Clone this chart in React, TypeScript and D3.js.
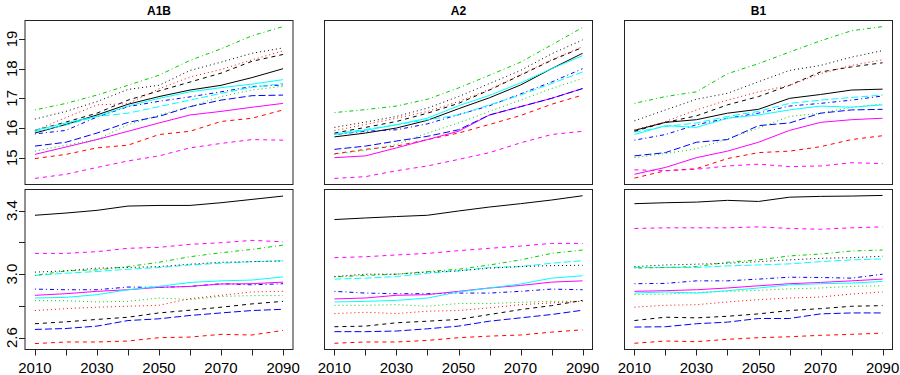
import React from 'react'
import * as d3 from 'd3'

// years on the x axis
const years = [2010, 2020, 2030, 2040, 2050, 2060, 2070, 2080, 2090]
const scenarios = ['A1B', 'A2', 'B1']

// matplot style: colours cycle 1:6, line types cycle 1:5
const lineColors = ['#000000', '#FF0000', '#00CD00', '#0000FF', '#00FFFF', '#FF00FF']
const lineDashes = ['', '4,4', '1,3', '1,3,4,3', '7,3']

const xTicks = [2010, 2020, 2030, 2040, 2050, 2060, 2070, 2080, 2090]
const xTickLabels = [2010, 2030, 2050, 2070, 2090]
const yTicksTop = [15, 16, 17, 18, 19]
const yLabelsTop = [15, 16, 17, 18, 19]
const yTicksBottom = [2.6, 2.8, 3.0, 3.2, 3.4]
const yLabelsBottom = [2.6, 3.0, 3.4]

// top row, one array per model run
const a1bTop = [
  [15.83, 16.12, 16.44, 16.8, 17.06, 17.28, 17.44, 17.7, 18.0],
  [14.97, 15.11, 15.33, 15.42, 15.78, 15.89, 16.22, 16.33, 16.61],
  [15.22, 15.42, 15.61, 16.11, 16.44, 16.72, 17.06, 17.28, 17.41],
  [15.8, 15.92, 16.37, 16.72, 16.9, 17.05, 17.22, 17.4, 17.45],
  [15.88, 16.1, 16.39, 16.5, 16.72, 16.94, 17.17, 17.37, 17.5],
  [15.11, 15.36, 15.61, 15.89, 16.17, 16.44, 16.56, 16.7, 16.83],
  [15.92, 16.2, 16.5, 16.94, 17.25, 17.55, 17.85, 18.25, 18.48],
  [15.92, 16.35, 16.78, 16.82, 17.32, 17.72, 17.97, 18.3, 18.6],
  [16.61, 16.83, 17.11, 17.44, 17.78, 18.28, 18.67, 19.11, 19.42],
  [15.39, 15.52, 15.83, 16.19, 16.39, 16.72, 16.94, 17.09, 17.11],
  [15.92, 16.17, 16.39, 16.74, 17.0, 17.22, 17.36, 17.48, 17.63],
  [14.3, 14.44, 14.67, 14.89, 15.06, 15.33, 15.48, 15.61, 15.59],
  [16.3, 16.56, 16.89, 17.3, 17.44, 17.94, 18.22, 18.52, 18.7],
]

const a2Top = [
  [15.7, 15.83, 16.0, 16.26, 16.65, 17.02, 17.45, 18.0, 18.52],
  [15.13, 15.28, 15.39, 15.61, 15.83, 16.12, 16.42, 16.8, 17.11],
  [15.11, 15.25, 15.44, 15.83, 16.17, 16.56, 16.94, 17.33, 17.67],
  [15.78, 15.89, 15.94, 16.14, 16.45, 16.75, 17.15, 17.55, 18.0],
  [15.8, 15.95, 16.11, 16.28, 16.44, 16.78, 17.11, 17.5, 17.89],
  [15.0, 15.06, 15.33, 15.61, 15.89, 16.44, 16.72, 17.0, 17.33],
  [15.83, 16.02, 16.22, 16.5, 16.83, 17.28, 17.78, 18.28, 18.72],
  [15.91, 16.12, 16.33, 16.56, 16.89, 17.3, 17.8, 18.3, 18.74],
  [16.52, 16.62, 16.74, 16.97, 17.35, 17.78, 18.22, 18.8, 19.39],
  [15.28, 15.39, 15.56, 15.72, 15.94, 16.44, 16.72, 17.0, 17.33],
  [15.78, 15.92, 16.11, 16.33, 16.75, 17.1, 17.52, 18.0, 18.44],
  [14.3, 14.36, 14.56, 14.72, 14.94, 15.17, 15.5, 15.78, 15.89],
  [16.02, 16.2, 16.39, 16.67, 17.06, 17.5, 17.94, 18.5, 18.97],
]

const b1Top = [
  [15.92, 16.19, 16.28, 16.5, 16.63, 17.0, 17.13, 17.28, 17.31],
  [14.31, 14.56, 14.63, 14.97, 15.17, 15.22, 15.37, 15.61, 15.74],
  [15.0, 15.14, 15.3, 15.63, 16.0, 16.39, 16.5, 16.7, 16.81],
  [15.59, 15.78, 16.11, 16.33, 16.5, 16.74, 16.83, 16.94, 17.08],
  [15.86, 16.05, 16.17, 16.39, 16.56, 16.83, 16.94, 17.03, 17.11],
  [14.44, 14.67, 15.0, 15.22, 15.52, 15.92, 16.19, 16.28, 16.33],
  [15.89, 16.19, 16.41, 16.78, 17.06, 17.44, 17.89, 18.06, 18.2],
  [15.94, 16.22, 16.61, 16.94, 17.22, 17.44, 17.83, 18.11, 18.3],
  [16.83, 17.06, 17.22, 17.83, 18.17, 18.56, 18.94, 19.28, 19.42],
  [15.06, 15.17, 15.52, 15.61, 16.08, 16.17, 16.5, 16.61, 16.63],
  [15.78, 16.08, 16.02, 16.33, 16.44, 16.61, 16.74, 16.7, 16.78],
  [14.59, 14.56, 14.61, 14.72, 14.78, 14.7, 14.72, 14.83, 14.8],
  [16.24, 16.61, 16.97, 17.17, 17.56, 17.94, 18.11, 18.39, 18.61],
]

// bottom row
const a1bBottom = [
  [3.371, 3.385, 3.402, 3.429, 3.433, 3.433, 3.45, 3.471, 3.492],
  [2.563, 2.573, 2.573, 2.579, 2.6, 2.604, 2.621, 2.617, 2.646],
  [2.833, 2.833, 2.825, 2.829, 2.85, 2.84, 2.86, 2.865, 2.865],
  [2.906, 2.902, 2.902, 2.919, 2.917, 2.923, 2.94, 2.933, 2.94],
  [2.992, 3.006, 3.017, 3.031, 3.042, 3.058, 3.069, 3.079, 3.085],
  [2.867, 2.877, 2.892, 2.902, 2.917, 2.923, 2.938, 2.94, 2.95],
  [2.688, 2.7, 2.715, 2.729, 2.756, 2.773, 2.792, 2.813, 2.829],
  [2.771, 2.783, 2.792, 2.798, 2.804, 2.846, 2.867, 2.888, 2.892],
  [2.992, 3.021, 3.027, 3.048, 3.075, 3.11, 3.135, 3.156, 3.183],
  [2.652, 2.658, 2.673, 2.708, 2.719, 2.74, 2.756, 2.771, 2.779],
  [2.85, 2.854, 2.871, 2.902, 2.923, 2.948, 2.958, 2.963, 2.983],
  [3.131, 3.131, 3.142, 3.163, 3.169, 3.188, 3.198, 3.213, 3.204],
  [3.013, 3.021, 3.038, 3.042, 3.048, 3.063, 3.075, 3.079, 3.083],
]

const a2Bottom = [
  [3.344, 3.354, 3.363, 3.371, 3.398, 3.423, 3.444, 3.467, 3.494],
  [2.565, 2.573, 2.573, 2.583, 2.6, 2.61, 2.617, 2.635, 2.65],
  [2.804, 2.804, 2.808, 2.798, 2.815, 2.815, 2.823, 2.829, 2.829],
  [2.892, 2.881, 2.877, 2.877, 2.881, 2.881, 2.892, 2.906, 2.902],
  [2.969, 2.975, 2.985, 3.006, 3.021, 3.042, 3.048, 3.069, 3.085],
  [2.844, 2.85, 2.867, 2.871, 2.892, 2.913, 2.929, 2.95, 2.958],
  [2.669, 2.673, 2.694, 2.704, 2.715, 2.746, 2.777, 2.802, 2.835],
  [2.752, 2.76, 2.752, 2.767, 2.771, 2.788, 2.808, 2.819, 2.829],
  [2.983, 2.992, 3.0, 3.017, 3.031, 3.058, 3.09, 3.131, 3.152],
  [2.638, 2.638, 2.642, 2.656, 2.673, 2.704, 2.725, 2.746, 2.773],
  [2.825, 2.829, 2.835, 2.85, 2.888, 2.913, 2.938, 2.975, 2.99],
  [3.104, 3.11, 3.121, 3.131, 3.148, 3.163, 3.177, 3.194, 3.194],
  [2.985, 3.0, 3.0, 3.013, 3.021, 3.038, 3.048, 3.054, 3.056],
]

const b1Bottom = [
  [3.444, 3.45, 3.454, 3.465, 3.458, 3.485, 3.49, 3.492, 3.496],
  [2.565, 2.579, 2.575, 2.59, 2.6, 2.606, 2.615, 2.621, 2.629],
  [2.871, 2.875, 2.885, 2.892, 2.898, 2.908, 2.913, 2.923, 2.927],
  [2.94, 2.942, 2.958, 2.958, 2.969, 2.981, 2.979, 2.975, 3.0],
  [3.042, 3.042, 3.042, 3.052, 3.058, 3.065, 3.079, 3.09, 3.096],
  [2.892, 2.896, 2.902, 2.913, 2.927, 2.94, 2.948, 2.958, 2.969],
  [2.708, 2.729, 2.725, 2.735, 2.75, 2.771, 2.783, 2.798, 2.802],
  [2.792, 2.804, 2.808, 2.825, 2.84, 2.85, 2.856, 2.875, 2.888],
  [3.038, 3.042, 3.048, 3.075, 3.09, 3.115, 3.127, 3.146, 3.152],
  [2.667, 2.669, 2.688, 2.698, 2.721, 2.721, 2.75, 2.756, 2.756],
  [2.881, 2.888, 2.881, 2.896, 2.913, 2.933, 2.94, 2.944, 2.954],
  [3.288, 3.292, 3.292, 3.292, 3.298, 3.288, 3.283, 3.292, 3.298],
  [3.048, 3.058, 3.063, 3.069, 3.079, 3.09, 3.1, 3.104, 3.113],
]

const font = '"Liberation Sans", Arial, Helvetica, sans-serif'

// R style range: data extent plus 4% on both sides
function paddedDomain(values: number[]) {
  const [lo, hi] = d3.extent(values) as [number, number]
  const pad = (hi - lo) * 0.04
  return [lo - pad, hi + pad]
}

export default function App() {
  const width = 900
  const height = 375
  const colLeft = [25, 324.5, 624.5]
  const panelW = 268

  const rows = [
    { top: 20.5, bottom: 184.5, panels: [a1bTop, a2Top, b1Top], ticks: yTicksTop, labels: yLabelsTop, fmt: d3.format('d'), xAxis: false },
    { top: 189.5, bottom: 349.5, panels: [a1bBottom, a2Bottom, b1Bottom], ticks: yTicksBottom, labels: yLabelsBottom, fmt: d3.format('.1f'), xAxis: true },
  ]

  const x0 = d3.extent(years) as [number, number]
  const xPad = (x0[1] - x0[0]) * 0.04

  return (
    <svg width={width} height={height} style={{ position: 'absolute', left: 0, top: 0, background: '#fff' }} fontFamily={font}>
      {scenarios.map((name, c) => (
        <text key={name} x={colLeft[c] + panelW / 2} y={15} textAnchor="middle" fontSize={12} fontWeight="bold">{name}</text>
      ))}
      {rows.map((row, r) => {
        const y = d3.scaleLinear()
          .domain(paddedDomain(row.panels.flat(2)))
          .range([row.bottom, row.top])
        return (
          <g key={r}>
            {row.panels.map((series, c) => {
              const x = d3.scaleLinear()
                .domain([x0[0] - xPad, x0[1] + xPad])
                .range([colLeft[c], colLeft[c] + panelW])
              const line = d3.line<number>()
                .x((_, i) => x(years[i]))
                .y(d => y(d))
              return (
                <g key={c}>
                  {series.map((vals, i) => (
                    <path key={i} d={line(vals) || ''} fill="none"
                      stroke={lineColors[i % 6]} strokeWidth={1}
                      strokeDasharray={lineDashes[i % 5] || undefined} />
                  ))}
                  <rect x={colLeft[c]} y={row.top} width={panelW} height={row.bottom - row.top}
                    fill="none" stroke="#222" strokeWidth={1} />
                  {row.xAxis && (
                    <g>
                      {xTicks.map(t => (
                        <line key={t} x1={Math.round(x(t)) + 0.5} x2={Math.round(x(t)) + 0.5}
                          y1={row.bottom} y2={row.bottom + 6} stroke="#222" />
                      ))}
                      {xTickLabels.map(t => (
                        <text key={t} x={x(t)} y={373} textAnchor="middle" fontSize={15}>{t}</text>
                      ))}
                    </g>
                  )}
                  {c === 0 && (
                    <g>
                      {row.ticks.map(t => (
                        <line key={t} x1={colLeft[0] - 6} x2={colLeft[0]}
                          y1={Math.round(y(t)) + 0.5} y2={Math.round(y(t)) + 0.5} stroke="#222" />
                      ))}
                      {row.labels.map(t => (
                        <text key={t} transform={`translate(16.5,${y(t)}) rotate(-90)`}
                          textAnchor="middle" fontSize={15}>{row.fmt(t)}</text>
                      ))}
                    </g>
                  )}
                </g>
              )
            })}
          </g>
        )
      })}
    </svg>
  )
}
